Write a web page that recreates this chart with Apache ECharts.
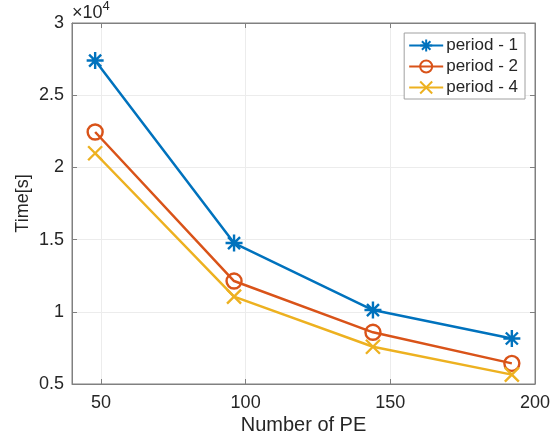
<!DOCTYPE html>
<html><head><meta charset="utf-8">
<script src="https://cdn.jsdelivr.net/npm/echarts@6/dist/echarts.min.js"></script>
<style>html,body{margin:0;padding:0;background:#fff}#c{width:559px;height:444px}</style>
</head><body><div id="c"></div>
<script>
const pe = [48, 96, 144, 192];
const period1 = [27400, 14760, 10120, 8150];
const period2 = [22450, 12130, 8580, 6430];
const period4 = [20980, 11050, 7580, 5650];
const xTicks = [50, 100, 150, 200];
const seriesNames = ['period - 1', 'period - 2', 'period - 4'];

const FONT = 'Liberation Sans';
const TXT = '#262626';
const AX = '#808080';
const GRID = '#ececec';

const star = 'path://M0,-10L0,10M-10,0L10,0M-7.07,-7.07L7.07,7.07M-7.07,7.07L7.07,-7.07';
const cross = 'path://M-10,-10L10,10M-10,10L10,-10';

function mk(name, vals, color, symbol, size) {
  return {
    name, type: 'line', data: pe.map((x, i) => [x, vals[i]]),
    symbol, symbolSize: size, showSymbol: true,
    lineStyle: {color, width: 2.5},
    itemStyle: {color: symbol === 'circle' ? 'rgba(255,255,255,0)' : color, borderColor: color, borderWidth: 2.4},
    emphasis: {disabled: true}, z: 3
  };
}

const chart = echarts.init(document.getElementById('c'));
chart.setOption({
  animation: false,
  backgroundColor: '#fff',
  textStyle: {fontFamily: FONT},
  grid: {left: 72, right: 24, top: 23, bottom: 60, show: true, borderColor: AX, borderWidth: 1},
  legend: {
    orient: 'vertical', right: 34, top: 33,
    data: seriesNames,
    itemWidth: 34, itemHeight: 15, itemGap: 4,
    backgroundColor: '#fff', borderColor: '#a0a0a0', borderWidth: 1, padding: [4, 7, 3, 4],
    textStyle: {fontFamily: FONT, fontSize: 17, lineHeight: 17, color: TXT, padding: [0, 0, 0, -2]}
  },
  xAxis: [{
    type: 'value', min: 40, max: 200,
    name: 'Number of PE', nameLocation: 'middle', nameGap: 31, nameMoveOverlap: false,
    nameTextStyle: {fontFamily: FONT, fontSize: 20, color: TXT},
    axisLine: {show: true, onZero: false, lineStyle: {color: AX}},
    axisTick: {show: true, inside: true, length: 5, lineStyle: {color: AX}, customValues: xTicks},
    axisLabel: {fontFamily: FONT, fontSize: 18, color: TXT, margin: 10, customValues: xTicks},
    splitLine: {show: true, lineStyle: {color: GRID, width: 1}}
  }, {
    type: 'value', min: 40, max: 200, position: 'top',
    axisLine: {show: true, lineStyle: {color: AX}},
    axisTick: {show: true, inside: true, length: 5, lineStyle: {color: AX}, customValues: xTicks},
    axisLabel: {show: false, customValues: xTicks},
    splitLine: {show: false}
  }],
  yAxis: [{
    type: 'value', min: 5000, max: 30000, interval: 5000,
    name: 'Time[s]', nameLocation: 'middle', nameGap: 40, nameMoveOverlap: false,
    nameTextStyle: {fontFamily: FONT, fontSize: 18, color: TXT},
    axisLine: {show: true, onZero: false, lineStyle: {color: AX}},
    axisTick: {show: true, inside: true, length: 5, lineStyle: {color: AX}},
    axisLabel: {fontFamily: FONT, fontSize: 18, color: TXT, margin: 8,
      formatter: v => String(v / 10000)},
    splitLine: {show: true, lineStyle: {color: GRID, width: 1}}
  }, {
    type: 'value', min: 5000, max: 30000, interval: 5000, position: 'right',
    axisLine: {show: true, lineStyle: {color: AX}},
    axisTick: {show: true, inside: true, length: 5, lineStyle: {color: AX}},
    axisLabel: {show: false},
    splitLine: {show: false}
  }],
  graphic: [{
    type: 'text', left: 72, top: 0,
    style: {
      text: '{a|×10}{b|4}',
      rich: {
        a: {fontFamily: FONT, fontSize: 18, fill: TXT, verticalAlign: 'bottom', lineHeight: 22},
        b: {fontFamily: FONT, fontSize: 13, fill: TXT, verticalAlign: 'top', lineHeight: 13, padding: [0, 0, 12, 0]}
      }
    }
  }],
  series: [
    mk(seriesNames[0], period1, '#0072BD', star, 17),
    mk(seriesNames[1], period2, '#D95319', 'circle', 15),
    mk(seriesNames[2], period4, '#EDB120', cross, 14)
  ]
});
</script></body></html>
